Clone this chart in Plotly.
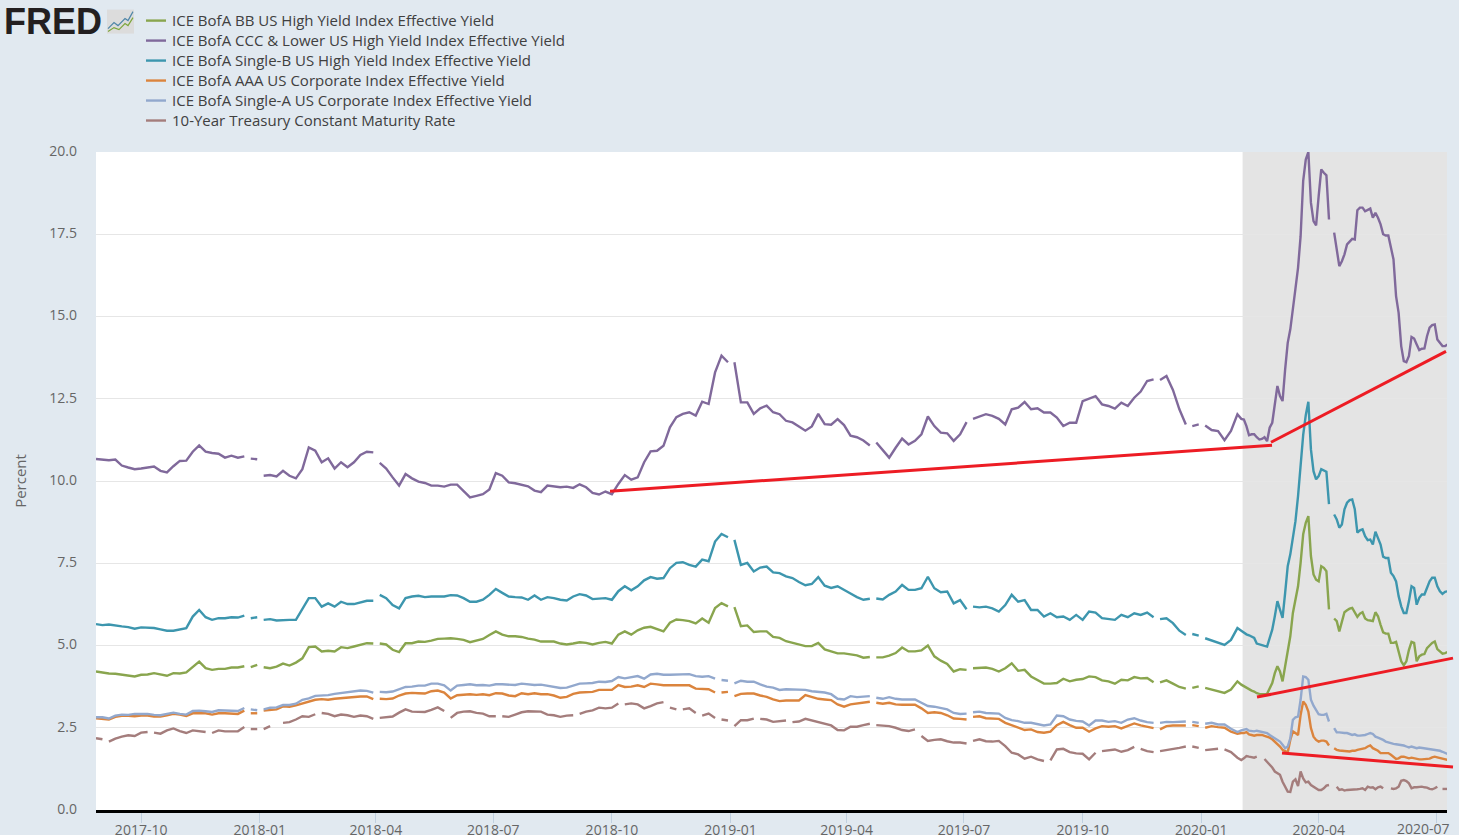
import pandas as pd
import plotly.graph_objects as go

W, H = 1459, 835
PLOT_L, PLOT_R, PLOT_T, PLOT_B = 96, 1447, 151.5, 810

# dates: every 5 days up to the end of 2020-01, then every 2 days (the spike needs more points)
dates = list(pd.date_range("2017-08-27", periods=178, freq="5D")) + \
    list(pd.date_range("2020-02-01", periods=81, freq="2D"))

tick_vals = ["2017-10-01", "2018-01-01", "2018-04-01", "2018-07-01", "2018-10-01", "2019-01-01",
             "2019-04-01", "2019-07-01", "2019-10-01", "2020-01-01", "2020-04-01", "2020-07-01"]
tick_text = ["2017-10", "2018-01", "2018-04", "2018-07", "2018-10", "2019-01",
             "2019-04", "2019-07", "2019-10", "2020-01", "2020-04", ""]

# ICE BofA BB
bb = [4.21, 4.17, 4.15, 4.14, 4.12, 4.09, 4.06, 4.11, 4.12, 4.16,
      4.13, 4.08, 4.16, 4.15, 4.18, 4.36, 4.51, 4.31, 4.26, 4.29,
      4.29, 4.33, 4.33, 4.37, 4.34, 4.41, 4.34, 4.31, 4.36, 4.45,
      4.39, 4.48, 4.61, 4.95, 4.97, 4.82, 4.84, 4.82, 4.95, 4.92,
      4.97, 5.02, 5.07, 5.06, 5.06, 5.03, 4.87, 4.80, 5.07, 5.07,
      5.12, 5.11, 5.15, 5.20, 5.21, 5.22, 5.20, 5.17, 5.10, 5.14,
      5.20, 5.32, 5.43, 5.33, 5.28, 5.28, 5.26, 5.21, 5.18, 5.12,
      5.13, 5.12, 5.06, 5.03, 5.06, 5.10, 5.08, 5.03, 5.08, 5.11,
      5.06, 5.33, 5.43, 5.33, 5.46, 5.54, 5.57, 5.51, 5.43, 5.69,
      5.79, 5.77, 5.74, 5.67, 5.82, 5.69, 6.14, 6.29, 6.19, 6.17,
      5.59, 5.61, 5.41, 5.43, 5.43, 5.26, 5.23, 5.13, 5.08, 5.02,
      4.98, 4.98, 5.08, 4.88, 4.81, 4.76, 4.76, 4.73, 4.70, 4.63,
      4.65, 4.64, 4.64, 4.69, 4.77, 4.94, 4.82, 4.82, 4.85, 5.00,
      4.67, 4.54, 4.44, 4.21, 4.28, 4.26, 4.31, 4.33, 4.33, 4.29,
      4.21, 4.31, 4.46, 4.23, 4.26, 4.06, 3.94, 3.84, 3.84, 3.86,
      3.99, 3.91, 3.96, 3.98, 4.06, 4.04, 3.94, 3.91, 3.84, 3.96,
      3.94, 4.04, 4.00, 4.01, 3.88, 3.88, 3.94, 3.84, 3.74, 3.69,
      3.71, 3.76, 3.71, 3.66, 3.61, 3.56, 3.66, 3.91,
      3.81, 3.76, 3.73, 3.68, 3.63, 3.60, 3.55, 3.53, 3.52, 3.52,
      3.53, 3.71, 3.86, 4.16, 4.37, 4.21, 3.91, 4.37, 4.87, 5.28,
      5.99, 6.35, 6.80, 7.51, 8.38, 8.73, 8.93, 7.72, 7.16, 7.00,
      6.95, 7.41, 7.36, 7.26, 6.10, None, 5.82, 5.74, 5.43, 5.69,
      6.01, 6.07, 6.12, 6.14, 5.99, 5.87, 5.97, 6.01, 5.82, 5.77,
      5.76, 5.74, 6.01, 5.89, 5.63, 5.40, 5.36, 5.36, 5.08, 5.08,
      5.11, 4.82, 4.52, 4.40, 4.52, 4.87, 5.11, 5.08, 4.52, 4.67,
      4.72, 4.74, 4.92, 5.00, 5.08, 5.12, 4.89, 4.82, 4.75, 4.77, 4.80]

# ICE BofA CCC & Lower
ccc = [10.67, 10.65, 10.63, 10.65, 10.47, 10.41, 10.36, 10.38, 10.41, 10.44,
       10.31, 10.26, 10.45, 10.61, 10.62, 10.89, 11.08, 10.89, 10.85, 10.83,
       10.71, 10.77, 10.71, 10.75, 10.68, 10.66, 10.16, 10.18, 10.14, 10.31,
       10.16, 10.08, 10.36, 11.02, 10.92, 10.57, 10.69, 10.38, 10.57, 10.42,
       10.57, 10.79, 10.89, 10.87, 10.55, 10.38, 10.11, 9.86, 10.21, 10.08,
       9.98, 9.94, 9.86, 9.86, 9.83, 9.89, 9.89, 9.68, 9.50, 9.55,
       9.60, 9.74, 10.24, 10.16, 9.96, 9.93, 9.89, 9.84, 9.71, 9.66,
       9.86, 9.84, 9.81, 9.83, 9.79, 9.90, 9.81, 9.64, 9.59, 9.68,
       9.60, 9.91, 10.18, 10.04, 10.11, 10.57, 10.90, 10.92, 11.07, 11.63,
       11.94, 12.04, 12.09, 11.99, 12.41, 12.34, 13.30, 13.81, 13.61, 13.61,
       12.39, 12.39, 12.04, 12.21, 12.29, 12.09, 12.03, 11.83, 11.78, 11.66,
       11.53, 11.66, 12.04, 11.73, 11.71, 11.88, 11.70, 11.38, 11.33, 11.23,
       11.08, 11.17, 10.94, 10.71, 11.01, 11.29, 11.11, 11.22, 11.42, 11.96,
       11.67, 11.47, 11.45, 11.22, 11.42, 11.79, 11.89, 11.96, 12.03, 11.98,
       11.89, 11.72, 12.18, 12.23, 12.40, 12.18, 12.21, 12.08, 12.08, 11.93,
       11.67, 11.77, 11.77, 12.43, 12.50, 12.58, 12.33, 12.28, 12.20, 12.38,
       12.28, 12.53, 12.72, 13.04, 13.09, 13.07, 13.19, 12.77, 12.18, 11.72,
       11.67, 11.72, 11.69, 11.55, 11.52, 11.24, 11.52, 12.03,
       11.89, 11.87, 11.67, 11.39, 11.42, 11.42, 11.33, 11.26, 11.28, 11.33,
       11.21, 11.62, 11.77, 12.38, 12.89, 12.58, 12.43, 13.39, 14.20, 14.61,
       15.32, 15.85, 16.48, 17.44, 19.12, 19.77, 20.00, 18.46, 17.90, 17.77,
       18.66, 19.47, 19.37, 19.29, 17.95, None, 17.55, 17.04, 16.53, 16.68,
       16.89, 17.19, 17.29, 17.36, 17.34, 18.23, 18.31, 18.31, 18.20, 18.23,
       18.28, 18.00, 18.15, 18.00, 17.80, 17.50, 17.46, 17.46, 17.04, 16.74,
       15.62, 15.11, 14.10, 13.64, 13.61, 13.80, 14.38, 14.33, 14.15, 13.98,
       14.02, 14.03, 14.40, 14.66, 14.74, 14.76, 14.30, 14.18, 14.10, 14.10, 14.15]

# ICE BofA Single-B
single_b = [5.65, 5.62, 5.64, 5.60, 5.58, 5.56, 5.51, 5.55, 5.54, 5.53,
            5.49, 5.45, 5.45, 5.49, 5.53, 5.88, 6.08, 5.86, 5.78, 5.83,
            5.83, 5.86, 5.85, 5.91, 5.83, 5.86, 5.78, 5.80, 5.76, 5.78,
            5.78, 5.78, 6.10, 6.44, 6.44, 6.18, 6.28, 6.18, 6.33, 6.26,
            6.26, 6.30, 6.36, 6.36, 6.54, 6.44, 6.23, 6.13, 6.44, 6.49,
            6.51, 6.47, 6.49, 6.49, 6.49, 6.53, 6.52, 6.44, 6.33, 6.33,
            6.39, 6.54, 6.72, 6.60, 6.49, 6.47, 6.46, 6.39, 6.52, 6.39,
            6.47, 6.44, 6.39, 6.37, 6.49, 6.56, 6.52, 6.41, 6.42, 6.44,
            6.39, 6.65, 6.80, 6.68, 6.80, 6.98, 7.08, 7.03, 7.05, 7.35,
            7.51, 7.53, 7.45, 7.40, 7.61, 7.56, 8.16, 8.39, 8.29, 8.21,
            7.45, 7.51, 7.25, 7.37, 7.40, 7.22, 7.20, 7.10, 7.05, 6.93,
            6.83, 6.87, 7.08, 6.82, 6.75, 6.80, 6.68, 6.58, 6.47, 6.39,
            6.42, 6.43, 6.40, 6.54, 6.64, 6.84, 6.69, 6.69, 6.74, 7.09,
            6.74, 6.62, 6.64, 6.28, 6.38, 6.10, 6.18, 6.16, 6.18, 6.13,
            6.03, 6.23, 6.54, 6.33, 6.38, 6.08, 6.08, 5.88, 5.98, 5.86,
            5.88, 5.78, 5.93, 5.78, 6.03, 6.00, 5.83, 5.80, 5.78, 5.93,
            5.86, 5.98, 5.93, 6.00, 5.86, 5.80, 5.83, 5.68, 5.45, 5.32,
            5.35, 5.30, 5.22, 5.15, 5.10, 5.02, 5.17, 5.53,
            5.45, 5.38, 5.34, 5.31, 5.28, 5.23, 5.06, 5.03, 5.00, 4.99,
            4.97, 5.23, 5.48, 5.89, 6.35, 6.09, 5.84, 6.60, 7.41, 7.77,
            8.32, 8.78, 9.54, 10.60, 11.40, 12.00, 12.41, 10.96, 10.30, 10.05,
            10.15, 10.36, 10.33, 10.28, 9.30, None, 8.98, 8.83, 8.58, 8.68,
            9.14, 9.34, 9.42, 9.44, 9.14, 8.43, 8.50, 8.53, 8.32, 8.20,
            8.22, 8.07, 8.46, 8.27, 8.07, 7.70, 7.66, 7.66, 7.21, 7.11,
            6.95, 6.50, 6.19, 5.99, 5.99, 6.35, 6.80, 6.75, 6.24, 6.45,
            6.55, 6.55, 6.75, 6.95, 7.06, 7.06, 6.80, 6.65, 6.57, 6.63, 6.65]

# ICE BofA AAA
aaa = [2.79, 2.78, 2.75, 2.83, 2.86, 2.86, 2.85, 2.87, 2.87, 2.84,
       2.84, 2.88, 2.92, 2.90, 2.86, 2.94, 2.95, 2.94, 2.90, 2.94,
       2.94, 2.92, 2.92, 3.02, 2.94, 2.94, 3.02, 3.04, 3.06, 3.15,
       3.14, 3.18, 3.23, 3.28, 3.35, 3.37, 3.35, 3.38, 3.40, 3.42,
       3.43, 3.45, 3.45, 3.37, 3.38, 3.37, 3.39, 3.48, 3.54, 3.56,
       3.55, 3.54, 3.61, 3.63, 3.57, 3.39, 3.49, 3.51, 3.52, 3.50,
       3.52, 3.49, 3.55, 3.54, 3.48, 3.46, 3.55, 3.52, 3.55, 3.52,
       3.52, 3.48, 3.41, 3.44, 3.53, 3.57, 3.59, 3.59, 3.65, 3.64,
       3.65, 3.80, 3.74, 3.75, 3.79, 3.74, 3.84, 3.82, 3.79, 3.79,
       3.79, 3.77, 3.79, 3.69, 3.67, 3.67, 3.57, 3.57, 3.59, 3.46,
       3.53, 3.54, 3.54, 3.48, 3.44, 3.36, 3.31, 3.33, 3.33, 3.33,
       3.49, 3.43, 3.38, 3.36, 3.34, 3.21, 3.14, 3.21, 3.24, 3.26,
       3.29, 3.26, 3.23, 3.26, 3.21, 3.20, 3.19, 3.20, 3.09, 2.95,
       2.97, 2.95, 2.88, 2.78, 2.77, 2.75, 2.83, 2.85, 2.79, 2.79,
       2.77, 2.65, 2.58, 2.52, 2.43, 2.45, 2.37, 2.35, 2.38, 2.58,
       2.68, 2.58, 2.50, 2.50, 2.38, 2.48, 2.55, 2.53, 2.55, 2.48,
       2.55, 2.63, 2.57, 2.53, 2.49, 2.45, 2.55, 2.57, 2.57, 2.57,
       2.58, 2.55, 2.50, 2.55, 2.52, 2.50, 2.38, 2.32,
       2.34, 2.34, 2.37, 2.30, 2.28, 2.26, 2.28, 2.28, 2.28, 2.25,
       2.23, 2.20, 2.15, 2.08, 1.98, 1.93, 1.83, 1.78, 1.75, 2.13,
       2.39, 2.34, 2.28, 2.89, 3.30, 3.20, 2.99, 2.49, 2.23, 2.13,
       2.08, 2.11, 2.11, 2.08, 1.96, None, 1.88, 1.83, 1.81, 1.80,
       1.80, 1.80, 1.78, 1.80, 1.80, 1.83, 1.85, 1.85, 1.88, 1.93,
       1.96, 1.88, 1.85, 1.80, 1.73, 1.73, 1.73, 1.73, 1.68, 1.62,
       1.55, 1.57, 1.62, 1.62, 1.60, 1.57, 1.59, 1.57, 1.54, 1.54,
       1.54, 1.54, 1.54, 1.56, 1.60, 1.62, 1.60, 1.58, 1.55, 1.54, 1.52]

# ICE BofA Single-A
single_a = [2.82, 2.82, 2.78, 2.87, 2.90, 2.89, 2.92, 2.92, 2.92, 2.89,
            2.88, 2.92, 2.96, 2.92, 2.90, 3.01, 3.02, 3.00, 2.98, 3.03,
            3.03, 3.02, 3.01, 3.10, 3.06, 3.03, 3.06, 3.11, 3.12, 3.19,
            3.19, 3.23, 3.35, 3.39, 3.47, 3.48, 3.49, 3.53, 3.55, 3.57,
            3.59, 3.63, 3.62, 3.57, 3.59, 3.58, 3.60, 3.68, 3.74, 3.75,
            3.78, 3.78, 3.84, 3.84, 3.79, 3.63, 3.78, 3.80, 3.82, 3.79,
            3.80, 3.78, 3.82, 3.82, 3.80, 3.80, 3.84, 3.82, 3.80, 3.81,
            3.77, 3.74, 3.71, 3.72, 3.79, 3.84, 3.85, 3.86, 3.90, 3.89,
            3.92, 4.04, 4.00, 4.04, 4.07, 3.99, 4.12, 4.14, 4.11, 4.11,
            4.12, 4.13, 4.13, 4.07, 4.05, 4.07, 3.99, 3.95, 3.93, 3.85,
            3.93, 3.90, 3.90, 3.82, 3.75, 3.72, 3.65, 3.67, 3.67, 3.66,
            3.65, 3.61, 3.59, 3.57, 3.52, 3.38, 3.36, 3.46, 3.43, 3.45,
            3.46, 3.41, 3.38, 3.43, 3.38, 3.36, 3.36, 3.36, 3.26, 3.16,
            3.14, 3.11, 3.06, 2.95, 2.92, 2.93, 2.97, 2.99, 2.95, 2.94,
            2.93, 2.80, 2.73, 2.70, 2.65, 2.65, 2.60, 2.57, 2.60, 2.87,
            2.85, 2.75, 2.71, 2.69, 2.57, 2.72, 2.72, 2.68, 2.70, 2.65,
            2.75, 2.79, 2.72, 2.67, 2.65, 2.65, 2.68, 2.67, 2.69, 2.69,
            2.68, 2.65, 2.62, 2.65, 2.60, 2.60, 2.47, 2.37,
            2.42, 2.44, 2.46, 2.41, 2.39, 2.39, 2.41, 2.39, 2.39, 2.36,
            2.34, 2.28, 2.23, 2.20, 2.15, 2.08, 1.98, 1.88, 1.93, 2.18,
            2.74, 2.82, 2.84, 3.35, 4.06, 4.04, 3.96, 3.35, 3.17, 3.05,
            2.91, 2.89, 2.89, 2.92, 2.69, None, 2.49, 2.36, 2.36, 2.34,
            2.34, 2.34, 2.31, 2.28, 2.30, 2.26, 2.26, 2.26, 2.28, 2.31,
            2.34, 2.31, 2.23, 2.20, 2.17, 2.13, 2.08, 2.05, 2.03, 2.01,
            2.00, 1.99, 1.98, 1.96, 1.93, 1.90, 1.93, 1.90, 1.88, 1.90,
            1.89, 1.88, 1.86, 1.86, 1.83, 1.83, 1.82, 1.80, 1.77, 1.73, 1.70]

# 10-Year Treasury
treasury = [2.18, 2.15, 2.08, 2.17, 2.23, 2.27, 2.25, 2.35, 2.37, 2.35,
            2.32, 2.42, 2.48, 2.40, 2.34, 2.42, 2.39, 2.37, 2.34, 2.42,
            2.39, 2.38, 2.39, 2.52, 2.46, 2.46, 2.46, 2.55, None, 2.65,
            2.67, 2.75, 2.85, 2.83, 2.91, 2.95, 2.92, 2.85, 2.90, 2.88,
            2.83, 2.87, 2.85, 2.77, 2.80, 2.82, 2.84, 2.96, 3.06, 2.99,
            2.99, 2.98, 3.04, 3.12, 3.01, 2.80, 2.95, 2.99, 3.00, 2.95,
            2.93, 2.85, 2.85, 2.85, 2.83, 2.90, 2.97, 3.00, 3.00, 2.99,
            2.90, 2.88, 2.83, 2.87, 2.88, 2.92, 2.99, 3.03, 3.11, 3.09,
            3.11, 3.24, 3.21, 3.24, 3.21, 3.09, 3.16, 3.24, 3.28, 3.11,
            3.06, 3.06, 3.09, 2.95, 2.87, 2.93, 2.80, 2.75, 2.72, 2.55,
            2.73, 2.73, 2.78, 2.77, 2.75, 2.68, 2.70, 2.72, 2.67, 2.69,
            2.77, 2.72, 2.68, 2.63, 2.57, 2.43, 2.42, 2.53, 2.53, 2.58,
            2.62, 2.58, 2.57, 2.55, 2.50, 2.43, 2.40, 2.45, 2.25, 2.10,
            2.13, 2.15, 2.09, 2.05, 2.05, 2.02, 2.10, 2.15, 2.09, 2.08,
            2.10, 1.94, 1.74, 1.69, 1.56, 1.62, 1.54, 1.49, 1.51, 1.84,
            1.86, 1.76, 1.72, 1.71, 1.54, 1.74, 1.79, 1.82, 1.84, 1.77,
            1.82, 1.92, 1.86, 1.79, 1.76, 1.79, 1.82, 1.84, 1.89, 1.93,
            1.93, 1.89, 1.82, 1.84, 1.86, 1.84, 1.76, 1.59,
            1.52, 1.57, 1.64, 1.62, 1.60, 1.59, 1.62, None, None, 1.55,
            1.47, 1.40, 1.29, 1.17, 1.12, 1.07, 0.86, 0.71, 0.56, 0.55,
            0.86, 0.93, 0.73, 1.17, 0.96, 0.84, 0.86, 0.76, 0.71, 0.66,
            0.61, 0.61, 0.66, 0.74, 0.76, None, None, 0.71, 0.61, 0.63,
            0.59, 0.61, 0.61, 0.63, 0.61, 0.63, 0.64, 0.66, 0.61, 0.71,
            0.68, 0.69, 0.63, 0.69, 0.71, 0.66, None, None, 0.66, 0.64,
            0.66, 0.71, 0.89, 0.91, 0.88, 0.81, 0.66, 0.69, 0.69, 0.71,
            0.71, 0.69, 0.68, 0.64, 0.63, 0.66, 0.71, None, 0.64, 0.64, 0.64]

# places where the source series skips (line breaks just after this index)
hy_breaks = [23, 25, 43, 98, 120, 135, 164, 169, 171]
ig_breaks = [23, 25, 43, 96, 98, 120, 135, 164, 169, 171]
tsy_breaks = [1, 8, 17, 23, 25, 34, 43, 54, 62, 74, 81, 88, 90, 93, 96, 98, 102, 107,
              120, 127, 135, 147, 155, 161, 164, 169, 171, 174]

names = ["ICE BofA BB US High Yield Index Effective Yield",
         "ICE BofA CCC & Lower US High Yield Index Effective Yield",
         "ICE BofA Single-B US High Yield Index Effective Yield",
         "ICE BofA AAA US Corporate Index Effective Yield",
         "ICE BofA Single-A US Corporate Index Effective Yield",
         "10-Year Treasury Constant Maturity Rate"]
colors = ["#89a54e", "#80699b", "#3d96ae", "#db843d", "#92a8cd", "#a47d7c"]


def split_line(vals, breaks):
    xs, ys = list(dates), list(vals)
    for b in sorted(breaks, reverse=True):
        xs.insert(b + 1, xs[b])
        ys.insert(b + 1, None)
    return xs, ys


def px_x(x):
    return (x - PLOT_L) / (PLOT_R - PLOT_L)


def px_y(y):
    return (PLOT_B - y) / (PLOT_B - PLOT_T)


fig = go.Figure()
series = [(bb, hy_breaks), (ccc, hy_breaks), (single_b, hy_breaks),
          (aaa, ig_breaks), (single_a, ig_breaks), (treasury, tsy_breaks)]
for k in range(6):
    xs, ys = split_line(series[k][0], series[k][1])
    fig.add_trace(go.Scatter(x=xs, y=ys, mode='lines', name=names[k],
                             line=dict(color=colors[k], width=2.4), connectgaps=False))

# legend by hand: plotly's own keys are too long and the rows too far apart
for k in range(6):
    row_y = 20 + 20 * k
    fig.add_shape(type='line', xref='paper', yref='paper', x0=px_x(146), x1=px_x(166), y0=px_y(row_y), y1=px_y(row_y),
                  line=dict(color=colors[k], width=2.4))
    fig.add_annotation(xref='paper', yref='paper', x=px_x(172), y=px_y(row_y), xanchor='left', yanchor='middle',
                       text=names[k].replace('&', '&amp;'), showarrow=False, xshift=-2, yshift=0.5,
                       font=dict(family='Open Sans', size=15, color='#404040'))

# recession band
fig.add_shape(type='rect', xref='x', yref='paper', x0="2020-02-02", x1="2020-07-09 12:00", y0=0, y1=1,
              fillcolor='#e4e4e4', line_width=0, layer='below')

# the red lines somebody drew on top of the chart (two of them run past the plot edge)
red_lines = [(610, 491, 1272, 445), (1271, 442, 1446, 351), (1257, 697, 1453, 658), (1282, 753, 1453, 767)]
for x0, y0, x1, y1 in red_lines:
    fig.add_shape(type='line', xref='paper', yref='paper', x0=px_x(x0), y0=px_y(y0), x1=px_x(x1), y1=px_y(y1),
                  line=dict(color='#ed1c24', width=3))

# FRED logo
fig.add_annotation(xref='paper', yref='paper', x=px_x(2), y=px_y(21), xanchor='left', yanchor='middle',
                   text='<b>FRED</b>', showarrow=False, font=dict(family='Liberation Sans', size=36, color='#231f20'))
fig.add_shape(type='rect', xref='paper', yref='paper', x0=px_x(107), y0=px_y(33), x1=px_x(134), y1=px_y(9),
              fillcolor='#dcdcdc', line_width=0)
for pts, col in [([(108, 28), (114, 22), (118, 25), (125, 18), (128, 20), (133, 11)], '#4f86a8'),
                 ([(108, 31), (114, 27), (119, 29), (125, 23), (128, 25), (133, 17)], '#7ea63c')]:
    path = 'M ' + ' L '.join(f'{px_x(a):.5f} {px_y(b):.5f}' for a, b in pts)
    fig.add_shape(type='path', xref='paper', yref='paper', path=path, line=dict(color=col, width=1.2))

# last tick label is pushed left in the original so that it fits
fig.add_annotation(xref='paper', yref='paper', x=px_x(1423), y=px_y(829), xanchor='center', yanchor='middle',
                   text='2020-07', showarrow=False, font=dict(family='Open Sans', size=14, color='#666666'))

fig.update_layout(width=W, height=H,
                  margin=dict(l=PLOT_L, r=W - PLOT_R, t=PLOT_T, b=H - PLOT_B, pad=0),
                  paper_bgcolor='#e1e9f0', plot_bgcolor='#ffffff',
                  font=dict(family='Open Sans', size=14, color='#666666'),
                  showlegend=False)
fig.update_xaxes(range=["2017-08-27", "2020-07-09 12:00"], tickmode='array', tickvals=tick_vals, ticktext=tick_text,
                 ticks='outside', ticklen=10, tickcolor='#c0d0e0', tickwidth=1, showgrid=False,
                 showline=True, linecolor='#000000', linewidth=2.5, automargin=False, ticklabelstandoff=-5,
                 tickfont=dict(family='Open Sans', size=14, color='#666666'))
fig.update_yaxes(range=[0, 20], dtick=2.5, tickformat='.1f', showgrid=True, gridcolor='#e6e6e6', gridwidth=1,
                 zeroline=False, showline=False, ticks='', ticklabelstandoff=18, ticklabelshift=-1, automargin=False,
                 title=dict(text='Percent', standoff=19, font=dict(family='Open Sans', size=15, color='#666666')),
                 tickfont=dict(family='Open Sans', size=14, color='#666666'))

# the page's default 8px body margin would push the chart off the window
fig.write_html("out.html", config=dict(displayModeBar=False), post_script="document.body.style.margin='0';")
